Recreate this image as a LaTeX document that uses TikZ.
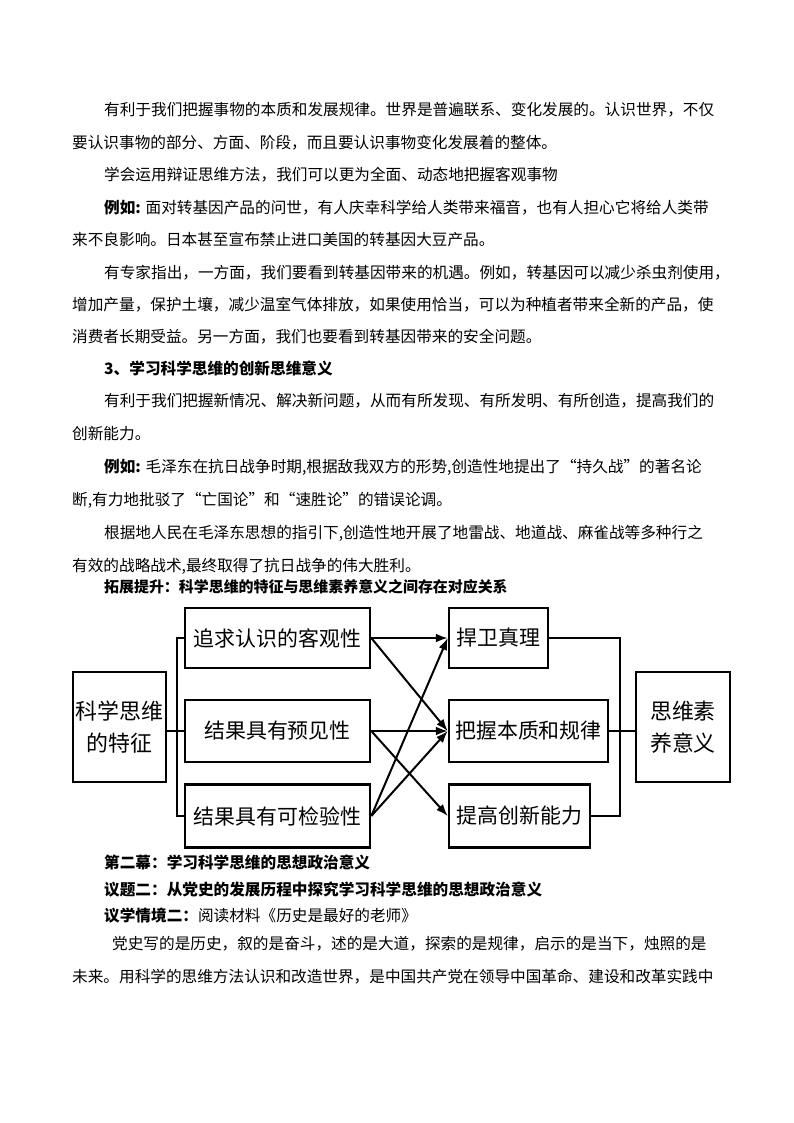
\documentclass[tikz,border=0pt]{standalone}
\usepackage{fontspec}
\setmainfont{Noto Sans CJK SC}
\usetikzlibrary{arrows.meta}
\tikzset{
  ln/.style={anchor=west,inner sep=0pt,font=\fontsize{15.7}{16}\selectfont},
  bx/.style={draw,line width=2.6pt,inner sep=0pt,font=\fontsize{21}{26}\selectfont},
  cn/.style={line width=2.6pt},
  ar/.style={line width=2pt,-{Latex[length=12pt,width=9pt]}},
}
\begin{document}
\begin{tikzpicture}[x=1bp,y=-1bp]
\useasboundingbox[fill=white] (0,0) rectangle (794,1123);
\node[ln] (t1) at (104,110) {有利于我们把握事物的本质和发展规律。世界是普遍联系、变化发展的。认识世界，不仅};
\node[ln] (t2) at (72,143) {要认识事物的部分、方面、阶段，而且要认识事物变化发展着的整体。};
\node[ln] (t3) at (104,175) {学会运用辩证思维方法，我们可以更为全面、动态地把握客观事物};
\node[ln] (t4) at (104,208) {\textbf{例如:} 面对转基因产品的问世，有人庆幸科学给人类带来福音，也有人担心它将给人类带};
\node[ln] (t5) at (72,240) {来不良影响。日本甚至宣布禁止进口美国的转基因大豆产品。};
\node[ln] (t6) at (104,273) {有专家指出，一方面，我们要看到转基因带来的机遇。例如，转基因可以减少杀虫剂使用，};
\node[ln] (t7) at (72,305) {增加产量，保护土壤，减少温室气体排放，如果使用恰当，可以为种植者带来全新的产品，使};
\node[ln] (t8) at (72,337) {消费者长期受益。另一方面，我们也要看到转基因带来的安全问题。};
\node[ln] (t9) at (104,368) {\textbf{3、学习科学思维的创新思维意义}};
\node[ln] (t10) at (104,401) {有利于我们把握新情况、解决新问题，从而有所发现、有所发明、有所创造，提高我们的};
\node[ln] (t11) at (72,434) {创新能力。};
\node[ln] (t12) at (104,467) {\textbf{例如:} 毛泽东在抗日战争时期,根据敌我双方的形势,创造性地提出了“持久战”的著名论};
\node[ln] (t13) at (72,500) {断,有力地批驳了“亡国论”和“速胜论”的错误论调。};
\node[ln] (t14) at (104,533) {根据地人民在毛泽东思想的指引下,创造性地开展了地雷战、地道战、麻雀战等多种行之};
\node[ln] (t15) at (72,566) {有效的战略战术,最终取得了抗日战争的伟大胜利。};
\node[ln,font=\fontsize{15}{16}\selectfont] (t16) at (104,587) {\textbf{拓展提升：科学思维的特征与思维素养意义之间存在对应关系}};
\node[ln] (t17) at (104,862) {\textbf{第二幕：学习科学思维的思想政治意义}};
\node[ln] (t18) at (104,890) {\textbf{议题二：从党史的发展历程中探究学习科学思维的思想政治意义}};
\node[ln] (t19) at (104,916) {\textbf{议学情境二：}阅读材料《历史是最好的老师》};
\node[ln] (t20) at (112,944) {党史写的是历史，叙的是奋斗，述的是大道，探索的是规律，启示的是当下，烛照的是};
\node[ln] (t21) at (72,977) {未来。用科学的思维方法认识和改造世界，是中国共产党在领导中国革命、建设和改革实践中};
% diagram
\node[bx,minimum width=93bp,minimum height=110bp,align=center,font=\fontsize{22}{32}\selectfont] (L) at (119.5,727) {科学思维\\的特征};
\node[bx,minimum width=185bp,minimum height=60bp] (A) at (277.5,638) {追求认识的客观性};
\node[bx,minimum width=185bp,minimum height=62bp] (B) at (277.5,731) {结果具有预见性};
\node[bx,minimum width=185bp,minimum height=63bp] (C) at (277.5,816) {结果具有可检验性};
\node[bx,minimum width=99bp,minimum height=60bp] (D) at (498.5,638) {捍卫真理};
\node[bx,minimum width=159bp,minimum height=62bp] (E) at (528.5,731) {把握本质和规律};
\node[bx,minimum width=141bp,minimum height=63bp] (F) at (519.5,816) {提高创新能力};
\node[bx,minimum width=94bp,minimum height=110bp,align=center,font=\fontsize{22}{32}\selectfont] (R) at (683,727) {思维素\\养意义};
\coordinate (lj) at (177,731);
\coordinate (rj) at (620,731);
\draw[cn] (L.east|-lj) -- (lj);
\draw[cn] (A.west) -| (lj) |- (C.west);
\draw[cn] (lj) -- (B.west);
\draw[cn] (D.east) -| (rj) |- (F.east);
\draw[cn] (E.east) -- (R.west|-rj);
\draw[ar] (A.east) -- (D.west);
\draw[ar] (A.east) -- (E.west);
\draw[ar] (B.east) -- (E.west);
\draw[ar] (B.east) -- (F.west);
\draw[ar] (C.east) -- (D.west);
\draw[ar] (C.east) -- (E.west);
\end{tikzpicture}
\end{document}
